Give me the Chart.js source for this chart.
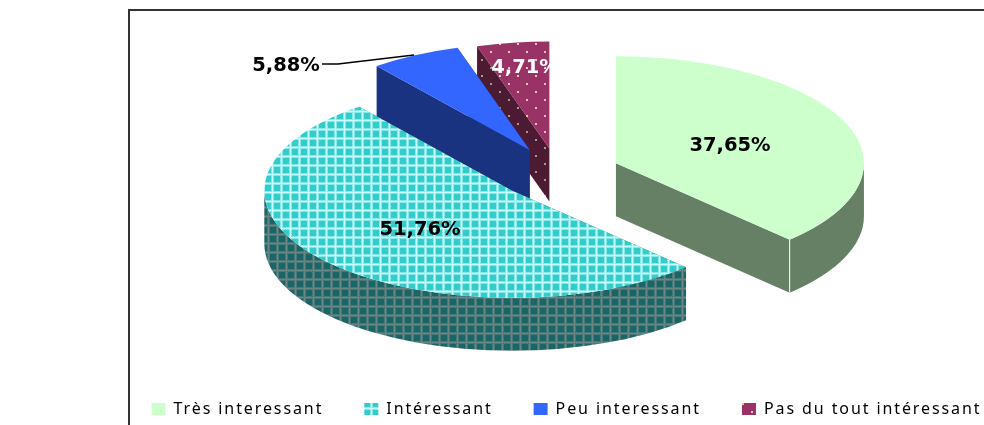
<!DOCTYPE html>
<html>
<head>
<meta charset="utf-8">
<style>
  html, body { margin: 0; padding: 0; background: #fff; }
  #wrap { position: relative; width: 984px; height: 425px; overflow: hidden; }
  canvas { position: absolute; left: 0; top: 0; }
</style>
<script src="https://cdn.jsdelivr.net/npm/chart.js@4"></script>
</head>
<body>
<div id="wrap"><canvas id="pie" width="1200" height="427"></canvas></div>
<script>
const categories = ["Très interessant", "Intéressant", "Peu interessant", "Pas du tout intéressant"];
const values = [37.65, 51.76, 5.88, 4.71];
const valueLabels = ["37,65%", "51,76%", "5,88%", "4,71%"];

// pie projection, the slices are exploded and squashed like an Excel 3D pie
const pieX = 558, pieY = 173.5, pieRX = 248, pieRY = 107, pieDepth = 53;
const explode = [62.6, 60.8, 61.2, 58.4];
const labelX = [730, 420, 286, 525];
const labelY = [146, 230, 66, 68];
const wallColors = ["#668066", null, "#1a3380", null];

// grid hatch, 9px cell with a soft light line at column px and row py
function gridPattern(base, soft, light, px, py) {
  const c = document.createElement("canvas");
  c.width = c.height = 9;
  const g = c.getContext("2d");
  g.fillStyle = base;
  g.fillRect(0, 0, 9, 9);
  g.fillStyle = soft;
  g.fillRect((px + 8) % 9, 0, 1, 9);
  g.fillRect((px + 1) % 9, 0, 1, 9);
  g.fillRect(0, (py + 8) % 9, 9, 1);
  g.fillRect(0, (py + 1) % 9, 9, 1);
  g.fillStyle = light;
  g.fillRect(px, 0, 1, 9);
  g.fillRect(0, py, 9, 1);
  return g.createPattern(c, "repeat");
}

// staggered dots
function dotPattern(base, dot) {
  const c = document.createElement("canvas");
  c.width = 18;
  c.height = 16;
  const g = c.getContext("2d");
  g.fillStyle = base;
  g.fillRect(0, 0, 18, 16);
  g.fillStyle = dot;
  g.fillRect(4, 3, 2, 2);
  g.fillRect(13, 11, 2, 2);
  return g.createPattern(c, "repeat");
}

const cyanTop = gridPattern("#33cccc", "#8ae8e8", "#c8ffff", 2, 3);
const cyanWall = gridPattern("#1a6666", "#4a7878", "#6b8585", 7, 0);
const purpleTop = dotPattern("#993366", "#e3c9a8");
const purpleWall = dotPattern("#4d1a33", "#a89c80");

const pie3d = {
  id: "pie3d",
  beforeLayout(chart) {
    chart.ctx.letterSpacing = "1.9px";
  },
  beforeDraw(chart) {
    const ctx = chart.ctx;
    ctx.save();
    ctx.strokeStyle = "#333";
    ctx.lineWidth = 2;
    ctx.strokeRect(129, 10, 1200, 600);
    ctx.restore();
  },
  beforeDatasetDraw(chart) {
    const ctx = chart.ctx;
    const arcs = chart.getDatasetMeta(0).data;
    for (let i = arcs.length - 1; i >= 0; i--) {
      const arc = arcs[i];
      const a0 = arc.startAngle, a1 = arc.endAngle, mid = (a0 + a1) / 2;
      const ax = pieX + Math.cos(mid) * explode[i];
      const ay = pieY + Math.sin(mid) * explode[i] * pieRY / pieRX;
      const wall = wallColors[i] || (i === 1 ? cyanWall : purpleWall);

      // side faces first, the top hides the ones facing away
      ctx.fillStyle = wall;
      [a0, a1].forEach(a => {
        const ex = ax + Math.cos(a) * pieRX, ey = ay + Math.sin(a) * pieRY;
        ctx.beginPath();
        ctx.moveTo(ax, ay);
        ctx.lineTo(ex, ey);
        ctx.lineTo(ex, ey + pieDepth);
        ctx.lineTo(ax, ay + pieDepth);
        ctx.closePath();
        ctx.fill();
      });
      const from = Math.max(a0, 0), to = Math.min(a1, Math.PI);
      if (to > from) {
        ctx.beginPath();
        ctx.ellipse(ax, ay, pieRX, pieRY, 0, from, to);
        ctx.ellipse(ax, ay + pieDepth, pieRX, pieRY, 0, to, from, true);
        ctx.closePath();
        ctx.fill();
      }
      if (i === 0) {
        const ex = ax + Math.cos(a1) * pieRX, ey = ay + Math.sin(a1) * pieRY;
        ctx.strokeStyle = "#fff";
        ctx.lineWidth = 1;
        ctx.beginPath();
        ctx.moveTo(ex, ey);
        ctx.lineTo(ex, ey + pieDepth);
        ctx.stroke();
      }

      ctx.save();
      ctx.translate(ax, ay);
      ctx.scale(pieRX / arc.outerRadius, pieRY / arc.outerRadius);
      ctx.translate(-arc.x, -arc.y);
      const fill = arc.options.backgroundColor;
      if (fill instanceof CanvasPattern) fill.setTransform(ctx.getTransform().inverse());
      arc.draw(ctx);
      if (fill instanceof CanvasPattern) fill.setTransform(new DOMMatrix());
      ctx.restore();
    }
    return false;
  },
  afterDatasetsDraw(chart) {
    const ctx = chart.ctx;
    ctx.save();
    ctx.letterSpacing = "0px";
    ctx.strokeStyle = "#000";
    ctx.lineWidth = 1.3;
    ctx.beginPath();
    ctx.moveTo(322, 64);
    ctx.lineTo(338, 64);
    ctx.lineTo(414, 55);
    ctx.stroke();
    ctx.font = "bold 19.5px 'DejaVu Sans'";
    ctx.textAlign = "center";
    ctx.textBaseline = "middle";
    valueLabels.forEach((t, i) => {
      ctx.fillStyle = i === 3 ? "#fff" : "#000";
      ctx.fillText(t, labelX[i], labelY[i]);
    });
    ctx.restore();
  }
};

new Chart(document.getElementById("pie"), {
  type: "pie",
  data: {
    labels: categories,
    datasets: [{
      data: values,
      backgroundColor: ["#ccffcc", cyanTop, "#3366ff", purpleTop],
      borderWidth: 0
    }]
  },
  options: {
    responsive: false,
    animation: false,
    layout: { padding: { left: 0, right: 67, bottom: 0 } },
    plugins: {
      tooltip: { enabled: false },
      legend: {
        position: "bottom",
        labels: {
          boxWidth: 14,
          boxHeight: 12,
          padding: 41,
          color: "#000",
          font: { family: "'Noto Sans'", size: 16 }
        }
      }
    }
  },
  plugins: [pie3d]
});
</script>
</body>
</html>
